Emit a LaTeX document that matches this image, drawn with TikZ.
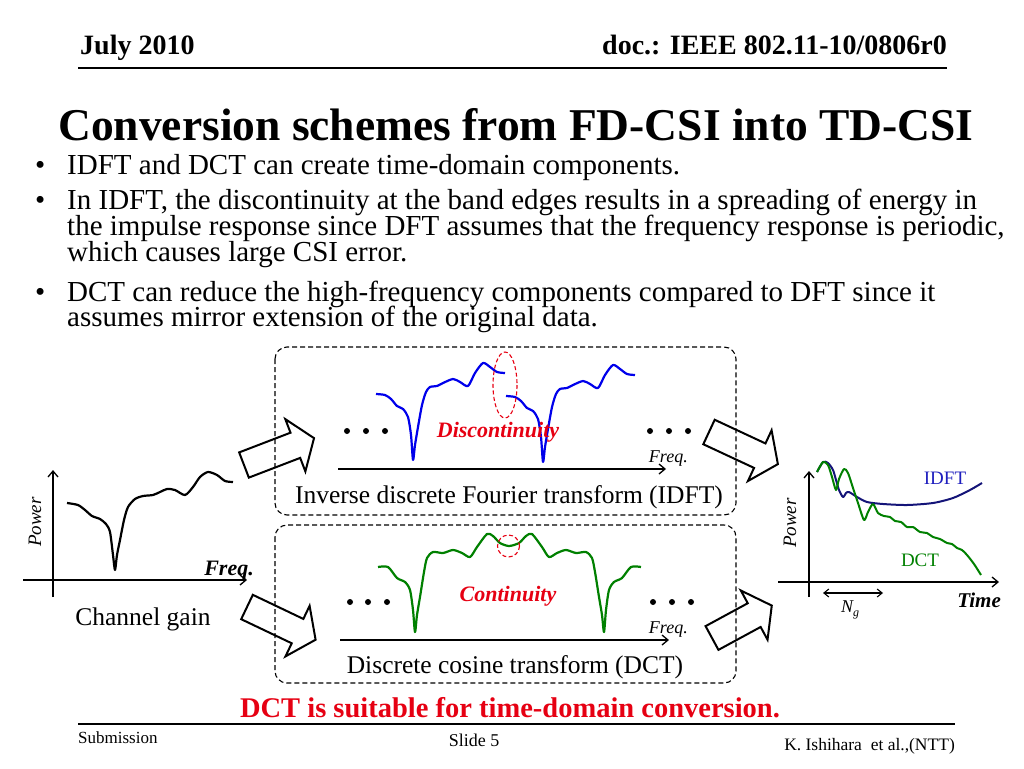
\documentclass[tikz,border=0pt]{standalone}
\usepackage{fontspec}
\setmainfont{Liberation Serif}
\usetikzlibrary{arrows.meta}
\definecolor{myred}{RGB}{230,0,18}
\definecolor{myblue}{RGB}{0,0,235}
\definecolor{mygreen}{RGB}{0,128,0}
\definecolor{navycurve}{RGB}{20,20,120}
\definecolor{lblblue}{RGB}{30,30,190}
\newcommand{\fs}[1]{\fontsize{#1}{#1}\selectfont}
\newcommand{\blkarrow}[3]{\draw[blockarrow, shift={#1}, rotate=#2] (0,-13.5) -- (#3-20,-13.5) -- (#3-20,-28) -- (#3,0) -- (#3-20,28) -- (#3-20,13.5) -- (0,13.5) -- cycle;}
\newcommand{\drawidft}[1]{\draw[bluecurve,#1] plot[smooth,tension=0.45] coordinates {(376,394) (385,395) (391,399) (397,406) (403,409) (408,417) (411,435) (413,460) (415,445) (418,427) (422,405) (426,392) (430,387) (437,386) (443,383) (453,379) (460,382) (468,386) (475,373) (483,363) (490,367) (497,372) (505,373)};}
\begin{document}
\begin{tikzpicture}[x=1pt,y=-1pt,
  dashbox/.style={draw, dash pattern=on 5pt off 3pt, rounded corners=12pt, line width=1.1pt},
  blockarrow/.style={draw, line width=2pt, line join=miter},
  axisline/.style={line width=1.3pt, -{Straight Barb[length=6pt,width=10pt,line width=1.3pt]}},
  curve/.style={line width=2.2pt, line join=round},
  bluecurve/.style={curve, draw=myblue},
  greencurve/.style={curve, draw=mygreen},
  dotmark/.style={fill=black, circle, inner sep=0pt, minimum size=6pt},
  redlbl/.style={text=myred, font=\fs{22}\bfseries\itshape},
  smalllbl/.style={font=\fs{18}\itshape},
  bodytext/.style={anchor=base west, font=\fs{29}, inner sep=0pt},
]
\useasboundingbox (0,0) rectangle (1024,768);

% header
\node[anchor=base west, font=\fs{28}\bfseries, inner sep=0pt] (date) at (80,55) {July 2010};
\node[anchor=base east, font=\fs{28}\bfseries, inner sep=0pt] (doc) at (947,55) {doc.: IEEE 802.11-10/0806r0};
\draw[line width=2pt] (78,68) -- (947,68);

% title
\node[anchor=base, font=\fs{45.5}\bfseries, inner sep=0pt] (title) at (516,140) {Conversion schemes from FD-CSI into TD-CSI};

% bullets
\node[bodytext] (b1) at (35,174) {•};
\node[bodytext] (b2) at (35,209) {•};
\node[bodytext] (b3) at (35,301) {•};
\node[bodytext] (t1) at (67,174) {IDFT and DCT can create time-domain components.};
\node[bodytext] (t2a) at (67,209) {In IDFT, the discontinuity at the band edges results in a spreading of energy in};
\node[bodytext] (t2b) at (67,235) {the impulse response since DFT assumes that the frequency response is periodic,};
\node[bodytext] (t2c) at (67,261) {which causes large CSI error.};
\node[bodytext] (t3a) at (67,301) {DCT can reduce the high-frequency components compared to DFT since it};
\node[bodytext] (t3b) at (67,326) {assumes mirror extension of the original data.};

% dashed boxes
\draw[dashbox] (275,347) rectangle (736,515);
\draw[dashbox] (275,525) rectangle (736,683);

% left plot
\coordinate (ly0) at (53,597); \coordinate (ly1) at (53,470);
\coordinate (lx0) at (23,580); \coordinate (lx1) at (247,580);
\draw[axisline] (ly0) -- (ly1);
\draw[axisline] (lx0) -- (lx1);
\node[rotate=90, font=\fs{19}\itshape] (lpow) at (35,522) {Power};
\node[anchor=base east, font=\fs{22}\bfseries\itshape, inner sep=0pt] (lfreq) at (254,575) {Freq.};
\node[anchor=base, font=\fs{25.5}, inner sep=0pt] (cg) at (143,625) {Channel gain};
\draw[curve] plot[smooth,tension=0.45] coordinates {(67,503) (78,505) (85,510) (92,516) (100,519) (106,524) (110,532) (113,555) (115,570) (117,555) (120,540) (124,520) (128,507) (135,499) (143,496) (153,495) (160,492) (167,489) (175,490) (185,495) (193,487) (200,477) (208,472) (217,475) (225,481) (233,482)};

% IDFT box contents
\drawidft{}
\drawidft{shift={(130,2)}}
\draw[myred, line width=1.1pt, dash pattern=on 4pt off 2.5pt] (505,385) ellipse [x radius=12, y radius=33];
\node[dotmark] (dl1) at (347,431) {}; \node[dotmark] (dl2) at (366,431) {}; \node[dotmark] (dl3) at (385,431) {};
\node[dotmark] (dr1) at (650,431) {}; \node[dotmark] (dr2) at (669,431) {}; \node[dotmark] (dr3) at (688,431) {};
\node[redlbl, anchor=base, inner sep=0pt] (disc) at (498,437) {Discontinuity};
\coordinate (fa0) at (338,469); \coordinate (fa1) at (666,469);
\draw[axisline] (fa0) -- (fa1);
\node[smalllbl, anchor=base east, inner sep=0pt] (f1) at (688,462) {Freq.};
\node[anchor=base, font=\fs{25.5}, inner sep=0pt] (idftl) at (509,503) {Inverse discrete Fourier transform (IDFT)};

% DCT box contents
\draw[greencurve] plot[smooth,tension=0.45] coordinates {(378,567) (388,567) (397,578) (405,582) (410,590) (413,610) (415,632) (417,615) (420,597) (424,572) (427,558) (433,552) (443,553) (453,550) (462,553) (470,557) (477,547) (487,534) (493,536) (500,543) (509,546) (519,543) (526,536) (532,534) (542,547) (549,557) (557,553) (566,550) (576,553) (586,552) (592,558) (595,572) (599,597) (602,615) (604,632) (606,610) (609,590) (614,582) (622,578) (631,567) (641,567)};
\draw[myred, line width=1.1pt, dash pattern=on 4pt off 2.5pt] (508.5,546) circle [radius=11];
\node[dotmark] (el1) at (350,602) {}; \node[dotmark] (el2) at (368,602) {}; \node[dotmark] (el3) at (387,602) {};
\node[dotmark] (er1) at (653,602) {}; \node[dotmark] (er2) at (672,602) {}; \node[dotmark] (er3) at (691,602) {};
\node[redlbl, anchor=base, inner sep=0pt] (cont) at (508,601) {Continuity};
\coordinate (fb0) at (340,640); \coordinate (fb1) at (669,640);
\draw[axisline] (fb0) -- (fb1);
\node[smalllbl, anchor=base east, inner sep=0pt] (f2) at (688,633) {Freq.};
\node[anchor=base, font=\fs{25.5}, inner sep=0pt] (dctl) at (515,673) {Discrete cosine transform (DCT)};

% block arrows
\blkarrow{(244,465)}{21}{75}
\blkarrow{(247,607)}{-25.5}{76}
\blkarrow{(709,432)}{-25}{76}
\blkarrow{(712,638)}{28.5}{68}

% right plot
\coordinate (ry0) at (809,597); \coordinate (ry1) at (809,471);
\coordinate (rx0) at (778,582); \coordinate (rx1) at (999,582);
\draw[axisline] (ry0) -- (ry1);
\draw[axisline] (rx0) -- (rx1);
\node[rotate=90, font=\fs{19}\itshape] (rpow) at (790,523) {Power};
\node[anchor=base east, font=\fs{21}\bfseries\itshape, inner sep=0pt] (time) at (1001,607) {Time};
\coordinate (ng0) at (823,593); \coordinate (ng1) at (883,593);
\draw[line width=1.1pt, {Straight Barb[length=5pt,width=8pt]}-{Straight Barb[length=5pt,width=8pt]}] (ng0) -- (ng1);
\node[anchor=base, font=\fs{18}\itshape, inner sep=0pt] (ng) at (850,612) {N\raisebox{-4pt}{\fs{12}g}};
\draw[line width=2pt, draw=navycurve, line join=round] plot[smooth,tension=0.45] coordinates {(817,472) (823,462) (828,463) (833,470) (836,480) (839,490) (843,497) (846,493) (849,492) (857,497) (867,502) (883,504) (907,505) (933,503) (953,498) (970,490) (982,483)};
\draw[line width=2pt, draw=mygreen, line join=round] plot[smooth,tension=0.45] coordinates {(817,472) (823,462) (828,465) (832,477) (836,490) (839,479) (844,469) (848,473) (853,488) (858,503) (864,520) (868,512) (873,504) (878,513) (884,516) (890,517) (895,521) (901,522) (907,527) (913,527) (920,532) (927,533) (933,537) (940,539) (947,543) (952,544) (957,548) (962,550) (967,555) (974,564) (981,575)};
\node[text=lblblue, font=\fs{19}, anchor=base, inner sep=0pt] (lidft) at (945,484) {IDFT};
\node[text=mygreen, font=\fs{19}, anchor=base, inner sep=0pt] (ldct) at (920,566) {DCT};

% conclusion
\node[anchor=base, text=myred, font=\fs{28.5}\bfseries, inner sep=0pt] (concl) at (510,717) {DCT is suitable for time-domain conversion.};

% footer
\draw[line width=2pt] (78,724) -- (955,724);
\node[anchor=base west, font=\fs{17}, inner sep=0pt] (sub) at (78,743) {Submission};
\node[anchor=base, font=\fs{18}, inner sep=0pt] (slide) at (474,746) {Slide 5};
\node[anchor=base east, font=\fs{17.5}, inner sep=0pt] (auth) at (955,750) {K. Ishihara\ \ et al.,(NTT)};
\end{tikzpicture}
\end{document}
